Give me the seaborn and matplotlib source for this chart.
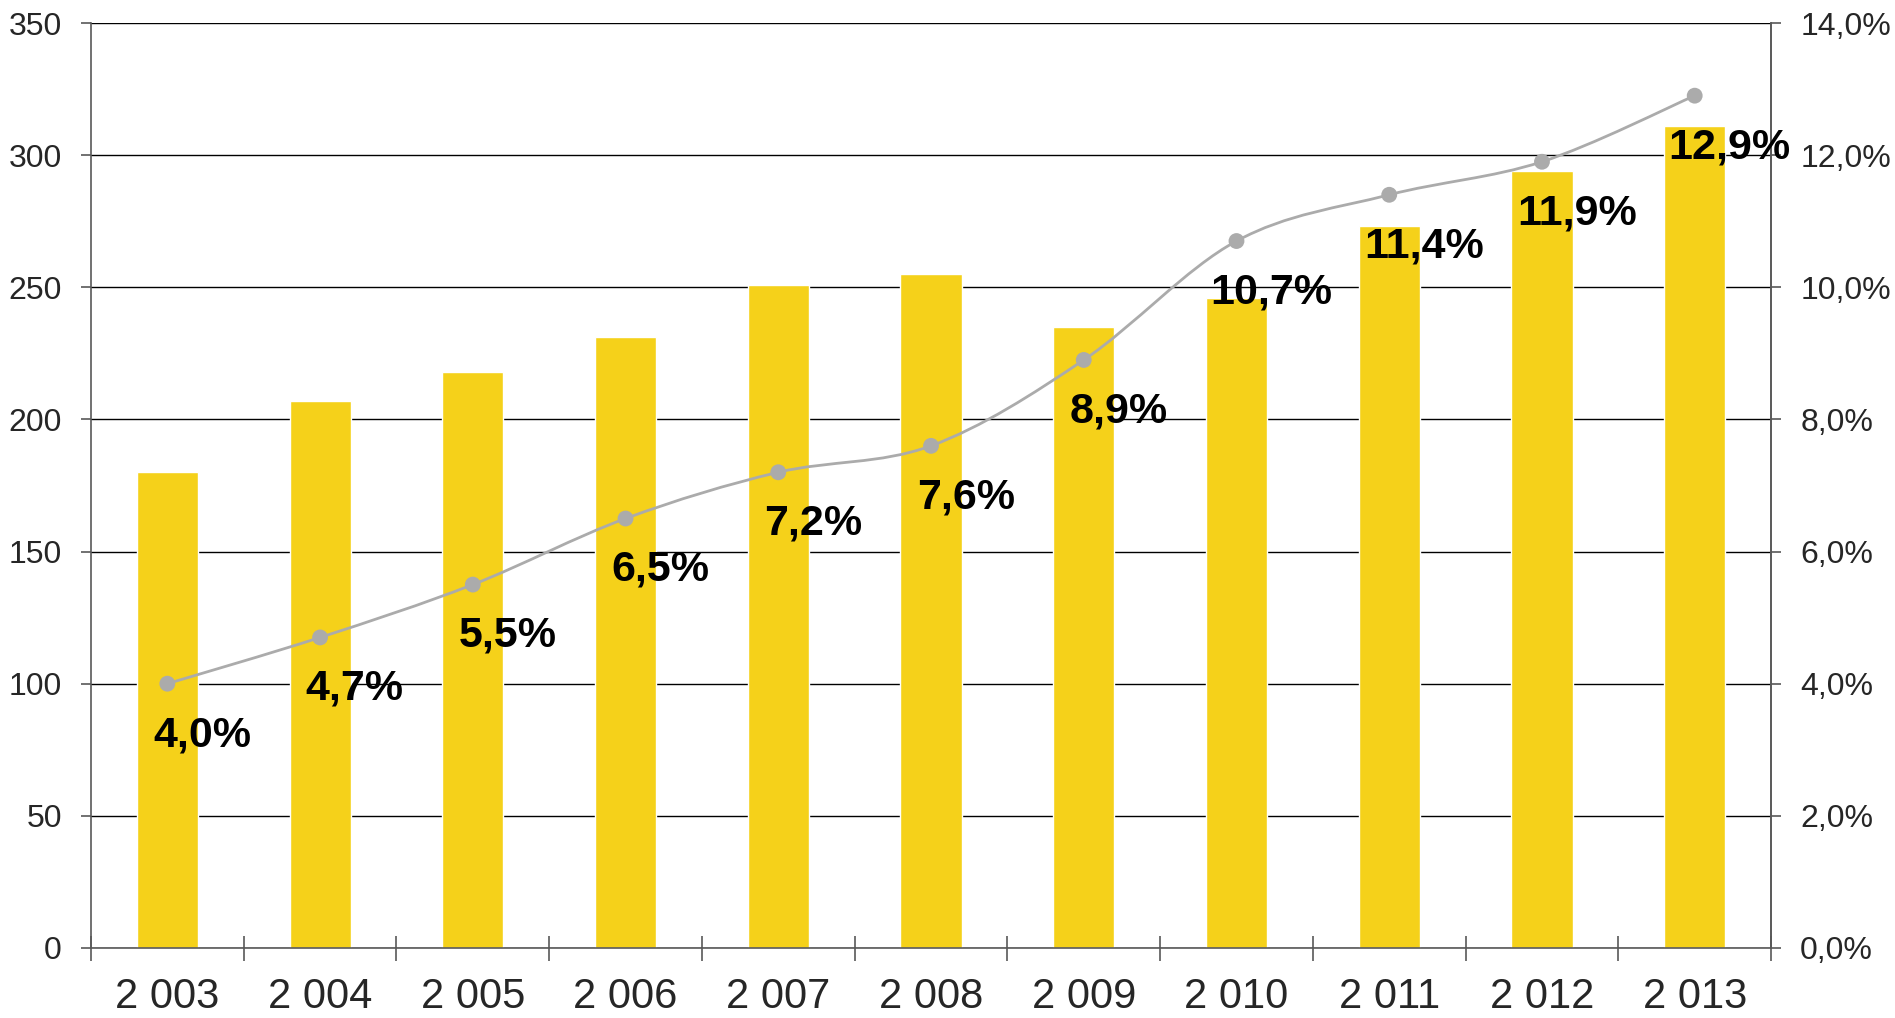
import numpy as np
import pandas as pd
import seaborn as sns
import matplotlib.pyplot as plt
from matplotlib.path import Path
from matplotlib.patches import PathPatch
from matplotlib.ticker import FuncFormatter, FixedLocator

years = ['2 003', '2 004', '2 005', '2 006', '2 007', '2 008',
         '2 009', '2 010', '2 011', '2 012', '2 013']
volumes = [180, 207, 218, 231, 251, 255, 235, 246, 273, 294, 311]
shares = [4.0, 4.7, 5.5, 6.5, 7.2, 7.6, 8.9, 10.7, 11.4, 11.9, 12.9]

BAR = '#F5D11A'
LINE = '#ABABAB'
AXIS = '#595959'

sns.set_theme(style='white')
plt.rcParams['font.family'] = ['Liberation Sans', 'DejaVu Sans']

df = pd.DataFrame({'year': years, 'volume': volumes, 'share': shares})

fig = plt.figure(figsize=(18.95, 10.18), dpi=100)
ax = fig.add_axes([0.048, 0.0688, 0.8866, 0.9086])

sns.barplot(data=df, x='year', y='volume', color=BAR, width=0.4,
            saturation=1, ax=ax, zorder=2)
ax.set_xlim(-0.5, len(years) - 0.5)
ax.set_ylim(0, 350)
ax.set_yticks(range(0, 351, 50))
ax.set_xlabel('')
ax.set_ylabel('')
ax.grid(axis='y', color='black', linewidth=1.0, zorder=0)
ax.set_axisbelow(True)

ax.spines['top'].set_visible(False)
for side in ['left', 'right', 'bottom']:
    ax.spines[side].set_color(AXIS)
    ax.spines[side].set_linewidth(1.2)

ax.tick_params(axis='y', which='major', direction='out', length=7,
               width=1.2, color=AXIS, labelsize=23, pad=14, left=True)
ax.tick_params(axis='x', which='major', length=0, labelsize=30, pad=21)
ax.xaxis.set_minor_locator(FixedLocator(np.arange(-0.5, len(years), 1.0)))
ax.tick_params(axis='x', which='minor', direction='inout', length=18,
               width=1.2, color=AXIS, bottom=True)

# share line on the right axis
ax2 = ax.twinx()
ax2.set_ylim(0, 14)
ax2.set_yticks(np.arange(0, 14.1, 2))
ax2.yaxis.set_major_formatter(
    FuncFormatter(lambda v, _: f'{v:.1f}%'.replace('.', ',')))
ax2.tick_params(axis='y', direction='out', length=7, width=1.2,
                color=AXIS, labelsize=23, pad=14, right=True)
ax2.grid(False)
for side in ['top', 'left', 'bottom']:
    ax2.spines[side].set_visible(False)
ax2.spines['right'].set_color(AXIS)
ax2.spines['right'].set_linewidth(1.2)

# smoothed line like the spreadsheet "smooth line" option
xs = np.arange(len(shares), dtype=float)
ys = np.array(shares)
pts = np.column_stack([xs, ys])
verts = [pts[0]]
codes = [Path.MOVETO]
for i in range(len(pts) - 1):
    p0 = pts[i - 1] if i > 0 else pts[i]
    p1, p2 = pts[i], pts[i + 1]
    p3 = pts[i + 2] if i + 2 < len(pts) else pts[i + 1]
    c1 = p1 + (p2 - p0) / 6
    c2 = p2 - (p3 - p1) / 6
    verts += [c1, c2, p2]
    codes += [Path.CURVE4] * 3
ax2.add_patch(PathPatch(Path(verts, codes), facecolor='none',
                        edgecolor=LINE, linewidth=2.0, zorder=3))
sns.scatterplot(x=xs, y=ys, ax=ax2, color=LINE, s=130, edgecolor='none',
                zorder=4, legend=False)

for x, v in zip(xs, shares):
    ax2.annotate(f'{v:.1f}%'.replace('.', ','), (x, v),
                 xytext=(25, -37), textcoords='offset points',
                 ha='center', va='center', fontsize=31,
                 fontweight='bold', color='black', zorder=5)

fig.savefig('out.png', dpi=100)
